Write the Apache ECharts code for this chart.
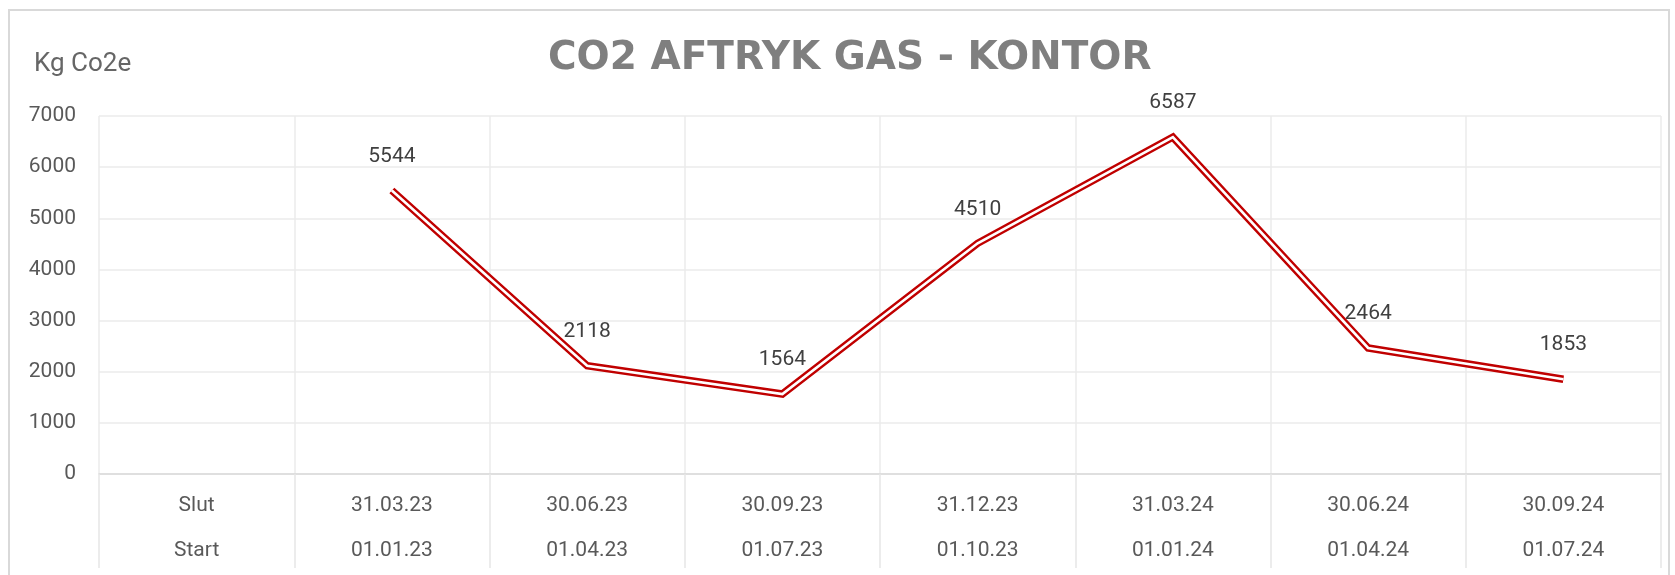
<!DOCTYPE html>
<html>
<head>
<meta charset="utf-8">
<script src="https://cdn.jsdelivr.net/npm/echarts@6/dist/echarts.min.js"></script>
<style>
  html, body { margin: 0; padding: 0; background: #fff; }
  #chart { width: 1675px; height: 575px; }
</style>
</head>
<body>
<div id="chart"></div>
<script>
// quarter end / start dates, first column only holds the row names
var slutDates = ['Slut', '31.03.23', '30.06.23', '30.09.23', '31.12.23', '31.03.24', '30.06.24', '30.09.24'];
var startDates = ['Start', '01.01.23', '01.04.23', '01.07.23', '01.10.23', '01.01.24', '01.04.24', '01.07.24'];
var co2Values = [null, 5544, 2118, 1564, 4510, 6587, 2464, 1853];
var yTicks = { min: 0, max: 7000, interval: 1000 };

var categories = [];
for (var i = 0; i < slutDates.length; i++) {
  categories.push(slutDates[i] + '\n' + startDates[i]);
}

var chart = echarts.init(document.getElementById('chart'), null, { renderer: 'canvas' });

var options = {
  animation: false,
  backgroundColor: '#fff',
  title: [
    {
      text: 'CO2 AFTRYK GAS - KONTOR',
      left: 543,
      top: 34,
      textStyle: {
        fontFamily: 'DejaVu Sans',
        fontWeight: 'bold',
        fontSize: 39,
        color: '#7f7f7f'
      }
    },
    {
      text: 'Kg Co2e',
      left: 29,
      top: 46,
      textStyle: {
        fontFamily: 'Roboto',
        fontWeight: 'normal',
        fontSize: 26,
        color: '#666666'
      }
    }
  ],
  graphic: [
    {
      type: 'rect',
      shape: { x: 9, y: 10, width: 1660, height: 600 },
      style: { fill: 'none', stroke: '#d9d9d9', lineWidth: 2 },
      silent: true,
      z: -1
    }
  ],
  grid: {
    left: 99,
    right: 14,
    top: 116,
    bottom: 101
  },
  xAxis: {
    type: 'category',
    data: categories,
    boundaryGap: true,
    axisLine: { lineStyle: { color: '#d9d9d9', width: 1.5 } },
    axisTick: {
      show: true,
      length: 94,
      lineStyle: { color: '#e6e6e6', width: 1.5 }
    },
    splitLine: { show: true, lineStyle: { color: '#ebebeb', width: 1.5 } },
    axisLabel: {
      interval: 0,
      margin: 9,
      fontFamily: 'Roboto',
      fontSize: 21,
      lineHeight: 45,
      color: '#595959'
    }
  },
  yAxis: {
    type: 'value',
    min: yTicks.min,
    max: yTicks.max,
    interval: yTicks.interval,
    axisLine: { show: false },
    axisTick: { show: false },
    splitLine: { lineStyle: { color: '#ebebeb', width: 1.5 } },
    axisLabel: {
      margin: 23,
      fontFamily: 'Roboto',
      fontSize: 21,
      color: '#595959',
      formatter: function (v) { return String(v); }
    }
  },
  series: [
    {
      // outer red stroke of the double line
      name: 'CO2',
      type: 'line',
      data: co2Values,
      symbol: 'none',
      connectNulls: false,
      lineStyle: { color: '#c00000', width: 7.4, cap: 'butt', join: 'miter' },
      silent: true,
      z: 2
    },
    {
      // white core, carries the value labels
      name: 'CO2 core',
      type: 'line',
      data: co2Values,
      symbol: 'circle',
      symbolSize: 1,
      showSymbol: true,
      itemStyle: { color: 'rgba(0,0,0,0)' },
      lineStyle: { color: '#ffffff', width: 2.6, cap: 'butt', join: 'miter' },
      label: {
        show: true,
        position: 'top',
        distance: 23,
        fontFamily: 'Roboto',
        fontSize: 21,
        color: '#404040'
      },
      silent: true,
      z: 3
    }
  ]
};

chart.setOption(options);
</script>
</body>
</html>
